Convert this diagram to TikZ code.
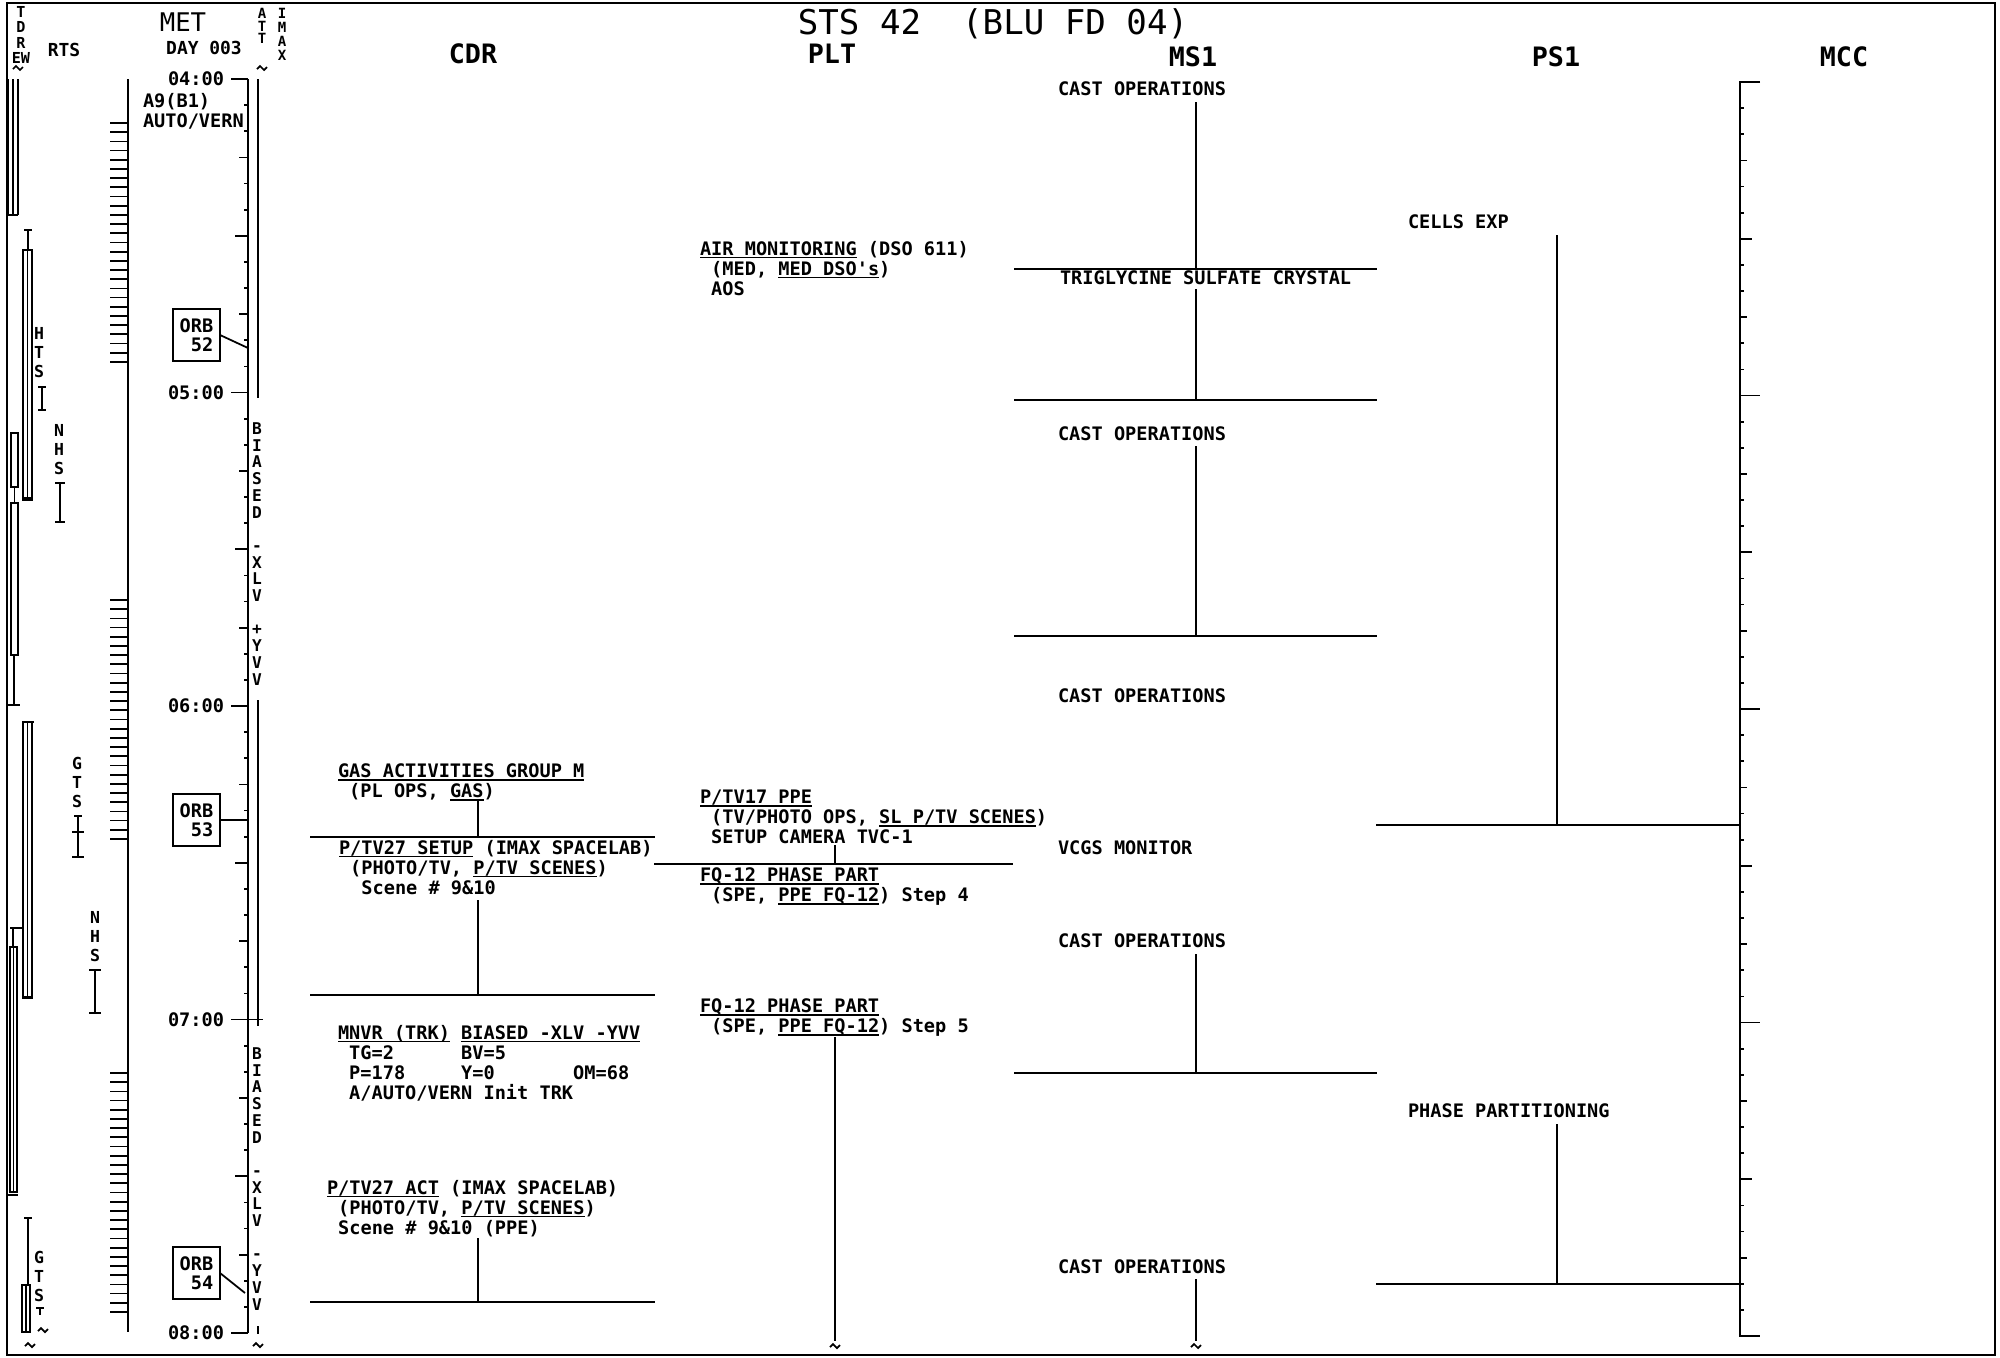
\documentclass[tikz,border=0pt]{standalone}
\usepackage{fontspec}
\newfontfamily\mono{DejaVu Sans Mono}
\newcommand\undl[1]{\setbox0\hbox{#1}\rlap{\rule[-0.9pt]{\wd0}{0.45pt}}\box0\relax}
\newcommand\ind{\mbox{~}}
\newcommand\bodyf{\mono\bfseries\fontsize{5.29}{5.69}\selectfont}
\newcommand\Ibar[4]{\draw[tk] (#1-#4,#2) -- (#1+#4,#2) (#1,#2) -- (#1,#3) (#1-#4,#3) -- (#1+#4,#3);}
\tikzset{
  ln/.style={line width=0.65pt},
  tk/.style={line width=0.5pt},
  body/.style={inner sep=0pt, outer sep=0pt, align=left, anchor=north west, font=\bodyf},
  lbl/.style={inner sep=0pt, outer sep=0pt, anchor=west, font=\bodyf},
  hdr/.style={inner sep=0pt, font=\mono\bfseries\fontsize{7.6}{8}\selectfont},
  stk/.style={inner sep=0pt, anchor=north, align=center, font=\mono\bfseries\fontsize{4.7}{5.3}\selectfont},
  orb/.style={draw, line width=0.6pt, inner sep=0pt, outer sep=0pt, minimum width=0.47cm, minimum height=0.52cm, align=right, font=\mono\bfseries\fontsize{5.29}{5.4}\selectfont},
  brk/.pic={\draw[line width=0.5pt] (-5,1) -- (-2,-2) -- (2,2) -- (5,-1);}
}
\begin{document}
\begin{tikzpicture}[x=0.01cm,y=-0.01cm]
\useasboundingbox (0,0) rectangle (2000,1357);
\fill[white] (0,0) rectangle (2000,1357);
\draw[line width=0.8pt] (7,3) rectangle (1995,1355);

% ---- headings
\node[anchor=base, inner sep=0pt, font=\mono\fontsize{9.7}{10}\selectfont] (title) at (993,34) {STS 42~~(BLU FD 04)};
\node[hdr] (hcdr) at (473,54) {CDR};
\node[hdr] (hplt) at (832,54) {PLT};
\node[hdr] (hms1) at (1193,57) {MS1};
\node[hdr] (hps1) at (1556,57) {PS1};
\node[hdr] (hmcc) at (1844,57) {MCC};
\node[inner sep=0pt, font=\mono\fontsize{7.3}{8}\selectfont] (met) at (183,22) {MET};
\node[inner sep=0pt, font=\mono\bfseries\fontsize{5.1}{6}\selectfont] (day) at (204,48) {DAY 003};
\node[inner sep=0pt, font=\mono\bfseries\fontsize{5.1}{6}\selectfont] (rts) at (64,50) {RTS};
\node[inner sep=0pt, anchor=north, align=center, font=\mono\bfseries\fontsize{4.3}{4.41}\selectfont] (tdrew) at (21,5.5) {T\\D\\R\\EW};
\node[inner sep=0pt, anchor=north, align=center, font=\mono\bfseries\fontsize{4.0}{3.5}\selectfont] (att) at (262,8) {A\\T\\T};
\node[inner sep=0pt, anchor=north, align=center, font=\mono\bfseries\fontsize{4.0}{3.98}\selectfont] (imax) at (282,8) {I\\M\\A\\X};
\pic at (18,68) {brk};
\pic at (262,68) {brk};

% ---- MET axis
\draw[ln] (248,79) -- (248,1333);
\foreach \k in {0,...,48}{
  \pgfmathsetmacro\yy{79+26.125*\k}
  \pgfmathsetmacro\tlen{ifthenelse(mod(\k,12)==0,17,ifthenelse(mod(\k,6)==0,13,ifthenelse(mod(\k,3)==0,9,4)))}
  \draw[tk] (248-\tlen,\yy) -- (248,\yy);
}
\draw[tk] (248,1019.5) -- (263,1019.5);
\node[lbl, anchor=east] (t04) at (224,79) {04:00};
\node[lbl, anchor=east] (t05) at (224,392.5) {05:00};
\node[lbl, anchor=east] (t06) at (224,706) {06:00};
\node[lbl, anchor=east] (t07) at (224,1019.5) {07:00};
\node[lbl, anchor=east] (t08) at (224,1333) {08:00};
\node[body] (a9) at (143,93) {A9(B1)\\AUTO/VERN};

% ORB boxes
\node[orb] (orb52) at (196.5,335) {ORB\\52};
\node[orb] (orb53) at (196.5,820) {ORB\\53};
\node[orb] (orb54) at (196.5,1273) {ORB\\54};
\coordinate (ax52) at (248,348);
\coordinate (ax53) at (248,820);
\coordinate (ax54) at (245,1293);
\draw[tk] (orb52.east) -- (ax52);
\draw[tk] (orb53.east) -- (ax53);
\draw[tk] (orb54.east) -- (ax54);

% ATT column
\draw[line width=0.6pt] (258,79) -- (258,398);
\draw[line width=0.6pt] (258,700) -- (258,1026);
\draw[tk] (258,1326) -- (258,1334);
\node[inner sep=0pt, anchor=north, align=center, font=\mono\bfseries\fontsize{4.6}{4.75}\selectfont] (bias1) at (257,422) {B\\I\\A\\S\\E\\D\\[4.75pt]-\\X\\L\\V\\[4.75pt]+\\Y\\V\\V};
\node[inner sep=0pt, anchor=north, align=center, font=\mono\bfseries\fontsize{4.6}{4.75}\selectfont] (bias2) at (257,1047) {B\\I\\A\\S\\E\\D\\[4.75pt]-\\X\\L\\V\\[4.75pt]-\\Y\\V\\V};
\pic at (258,1345) {brk};

% ---- left scale
\draw[ln] (128,79) -- (128,1332);
\foreach \gy in {123,600,1073}{
  \foreach \k in {0,...,26}{
    \draw[tk] (110,\gy+9.19*\k) -- (128,\gy+9.19*\k);
  }
}

% ---- TDRE / RTS bars
\draw[tk] (8,79) -- (8,215) (13,79) -- (13,215) (18,79) -- (18,215) (7,215) -- (18,215);
\draw[tk] (24,230) -- (32,230) (28,230) -- (28,250);
\draw[tk] (23,250) rectangle (32,498) (27.5,250) -- (27.5,498) (22,500) -- (33,500);
\draw[tk] (11,433) rectangle (18,487) (14.5,487) -- (14.5,503) (11,503) rectangle (18,655) (14,655) -- (14,705) (7,705) -- (20,705);
\draw[tk] (22,722) -- (34,722) (23,722) rectangle (32,997) (27.5,722) -- (27.5,997) (22,998) -- (33,998);
\draw[tk] (10,928) -- (22,928) (13,928) -- (13,947) (10,947) rectangle (17,1192) (13.5,947) -- (13.5,1192) (7,1195) -- (18,1195);
\draw[tk] (24,1218) -- (32,1218) (28,1218) -- (28,1285) (22,1285) rectangle (30,1332) (26,1285) -- (26,1332);
\draw[tk] (36,1308) -- (44,1308) (40,1308) -- (40,1315);
\pic at (43,1330) {brk};
\pic at (30,1345) {brk};

\node[stk] (hts) at (39,327) {H\\T\\S};
\node[stk] (nhs1) at (59,424) {N\\H\\S};
\node[stk] (gts1) at (77,757) {G\\T\\S};
\node[stk] (nhs2) at (95,911) {N\\H\\S};
\node[stk] (gts2) at (39,1251) {G\\T\\S};
\Ibar{42}{387}{410}{4}
\Ibar{60}{483}{522}{5}
\Ibar{78}{816}{832}{4}
\Ibar{78}{832}{857}{6}
\Ibar{95}{970}{1013}{6}

% ---- CDR
\node[body] (gas) at (338,764) {\undl{GAS ACTIVITIES GROUP M}\\\ind(PL OPS, \undl{GAS})};
\node[body] (setup) at (339,840) {\undl{P/TV27 SETUP} (IMAX SPACELAB)\\\ind(PHOTO/TV, \undl{P/TV SCENES})\\\ind\ind Scene \# 9\&10};
\node[body] (mnvr) at (338,1025) {\undl{MNVR (TRK)} \undl{BIASED -XLV -YVV}\\\ind TG=2~~~~~~BV=5\\\ind P=178~~~~~Y=0~~~~~~~OM=68\\\ind A/AUTO/VERN Init TRK};
\node[body] (act) at (327,1180) {\undl{P/TV27 ACT} (IMAX SPACELAB)\\\ind(PHOTO/TV, \undl{P/TV SCENES})\\\ind Scene \# 9\&10 (PPE)};
\draw[ln] (478,800) -- (478,837);
\draw[ln] (310,837) -- (655,837);
\draw[ln] (478,900) -- (478,995);
\draw[ln] (310,995) -- (655,995);
\draw[ln] (478,1238) -- (478,1302);
\draw[ln] (310,1302) -- (655,1302);

% ---- PLT
\node[body] (air) at (700,241) {\undl{AIR MONITORING} (DSO 611)\\\ind(MED, \undl{MED DSO's})\\\ind AOS};
\node[body] (ptv17) at (700,790) {\undl{P/TV17 PPE}\\\ind(TV/PHOTO OPS, \undl{SL P/TV SCENES})\\\ind SETUP CAMERA TVC-1};
\node[body] (fq4) at (700,868) {\undl{FQ-12 PHASE PART}\\\ind(SPE, \undl{PPE FQ-12}) Step 4};
\node[body] (fq5) at (700,999) {\undl{FQ-12 PHASE PART}\\\ind(SPE, \undl{PPE FQ-12}) Step 5};
\draw[ln] (835,845) -- (835,864);
\draw[ln] (654,864) -- (1013,864);
\draw[ln] (835,1037) -- (835,1341);
\pic at (835,1346) {brk};

% ---- MS1
\node[lbl] (cast1) at (1058,89) {CAST OPERATIONS};
\node[lbl] (tgs) at (1060,278) {TRIGLYCINE SULFATE CRYSTAL};
\node[lbl] (cast2) at (1058,434) {CAST OPERATIONS};
\node[lbl] (cast3) at (1058,696) {CAST OPERATIONS};
\node[lbl] (vcgs) at (1058,848) {VCGS MONITOR};
\node[lbl] (cast4) at (1058,941) {CAST OPERATIONS};
\node[lbl] (cast5) at (1058,1267) {CAST OPERATIONS};
\draw[ln] (1196,102) -- (1196,269);
\draw[ln] (1014,269) -- (1377,269);
\draw[ln] (1196,289) -- (1196,400);
\draw[ln] (1014,400) -- (1377,400);
\draw[ln] (1196,446) -- (1196,636);
\draw[ln] (1014,636) -- (1377,636);
\draw[ln] (1196,954) -- (1196,1073);
\draw[ln] (1014,1073) -- (1377,1073);
\draw[ln] (1196,1279) -- (1196,1341);
\pic at (1196,1346) {brk};

% ---- PS1
\node[lbl] (cells) at (1408,222) {CELLS EXP};
\node[lbl] (phase) at (1408,1111) {PHASE PARTITIONING};
\draw[ln] (1557,235) -- (1557,825);
\draw[ln] (1376,825) -- (1740,825);
\draw[ln] (1557,1124) -- (1557,1284);
\draw[ln] (1376,1284) -- (1740,1284);

% ---- MCC
\draw[ln] (1760,82) -- (1740,82) -- (1740,1336) -- (1760,1336);
\foreach \k in {1,...,47}{
  \pgfmathsetmacro\yy{82+26.125*\k}
  \pgfmathsetmacro\tlen{ifthenelse(mod(\k,12)==0,20,ifthenelse(mod(\k,6)==0,12,ifthenelse(mod(\k,3)==0,7,4)))}
  \draw[tk] (1740,\yy) -- (1740+\tlen,\yy);
}
\end{tikzpicture}
\end{document}
